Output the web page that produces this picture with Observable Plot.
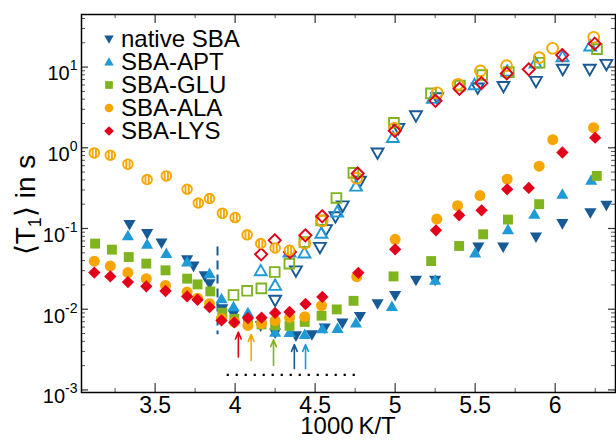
<!DOCTYPE html>
<html><head><meta charset="utf-8">
<script src="https://cdn.jsdelivr.net/npm/d3@7"></script>
<script src="https://cdn.jsdelivr.net/npm/@observablehq/plot@0.6"></script>
<style>
body{margin:0;background:#fff;font-family:"Liberation Sans",Arial,sans-serif}
#wrap{position:relative;width:616px;height:440px}
#wrap svg.plot{display:block}
#legend{position:absolute;left:101px;top:27px;font-size:24px;line-height:23px;color:#000;z-index:2}
#legend .row{display:flex;align-items:center;height:23px;white-space:nowrap}
#legend .row svg{width:16px;height:16px;margin-right:4px}
</style></head><body>
<div id="wrap"><div id="legend"></div></div>
<script>
// ---------- data (x = 1000 K/T, y = <T1> in s) ----------
const nativeFilled = [[3.34,0.112],[3.45,0.0865],[3.54,0.0661],[3.70,0.0409],[3.74,0.0342],[3.81,0.0259],[3.84,0.0207],[3.92,0.0101],[3.99,0.00862],[4.16,0.00621],[4.25,0.00508],[4.38,0.00467],[4.48,0.00483],[4.56,0.00586],[4.67,0.00673],[4.78,0.00814],[4.89,0.0117],[5.00,0.0148],[5.13,0.0228],[5.25,0.0228],[5.52,0.0589],[5.675,0.0589],[5.88,0.0784],[6.045,0.115],[6.22,0.157],[6.32,0.194]];
const aptFilled = [[3.33,0.0812],[3.45,0.0637],[3.57,0.0489],[3.70,0.0384],[3.84,0.0276],[3.915,0.0135],[3.99,0.0107],[4.08,0.00905],[4.25,0.0052],[4.34,0.00515],[4.435,0.00487],[4.545,0.00573],[4.64,0.00578],[4.755,0.00673],[4.98,0.0108],[5.25,0.0228],[5.50,0.0497],[5.705,0.0969],[5.87,0.150],[6.045,0.266],[6.225,0.396]];
const gluFilled = [[3.125,0.065],[3.23,0.0547],[3.335,0.0443],[3.445,0.0367],[3.565,0.0303],[3.70,0.0239],[3.765,0.0203],[3.845,0.0166],[3.92,0.00905],[3.995,0.00759],[4.08,0.00686],[4.165,0.00648],[4.25,0.0063],[4.34,0.00621],[4.435,0.00696],[4.54,0.00831],[4.635,0.00994],[4.74,0.0127],[4.99,0.0255],[5.225,0.0395],[5.40,0.0607],[5.55,0.0847],[5.705,0.129],[5.90,0.200],[6.26,0.448]];
const alaFilled = [[3.12,0.0394],[3.22,0.0343],[3.33,0.0284],[3.445,0.0239],[3.565,0.0197],[3.70,0.0163],[3.765,0.0137],[3.84,0.0117],[3.915,0.00762],[3.995,0.00692],[4.08,0.0063],[4.165,0.00661],[4.25,0.0072],[4.34,0.00791],[4.435,0.00807],[4.54,0.0111],[4.76,0.0253],[5.0,0.0735],[5.26,0.131],[5.39,0.192],[5.53,0.256],[5.70,0.408],[5.90,0.591],[5.985,1.26],[6.24,1.775]];
const lysFilled = [[3.12,0.0284],[3.22,0.0255],[3.33,0.0217],[3.445,0.0192],[3.565,0.0168],[3.70,0.0144],[3.765,0.0131],[3.84,0.0106],[3.915,0.00726],[3.995,0.00686],[4.08,0.00776],[4.165,0.00785],[4.25,0.00899],[4.34,0.00926],[4.44,0.0116],[4.545,0.0142],[4.77,0.0282],[5.0,0.0552],[5.255,0.095],[5.40,0.146],[5.54,0.168],[5.70,0.306],[5.835,0.318],[6.045,0.874],[6.25,1.335]];
const alaHatched = [[3.12,0.864],[3.22,0.809],[3.33,0.626],[3.45,0.404],[3.57,0.448],[3.70,0.306],[3.77,0.207],[3.84,0.235],[3.92,0.154],[4.00,0.1365],[4.075,0.0835],[4.16,0.0651],[4.25,0.0574],[4.34,0.0537]];
const nativeOpen = [[4.25,0.0129],[4.38,0.0299],[4.53,0.0584],[4.5675,0.0969],[4.627,0.140],[4.6725,0.191],[4.78,0.385],[4.89,0.864],[5.02,1.74],[5.13,2.50],[5.2625,4.18],[5.516,5.52],[5.677,5.76],[5.88,6.65],[6.0475,9.39],[6.216,9.39],[6.32,10.8]];
const aptOpen = [[4.16,0.0299],[4.25,0.0197],[4.34,0.0511],[4.433,0.0497],[4.539,0.0872],[4.6375,0.160],[4.756,0.334],[4.986,1.34],[5.236,4.09],[5.496,6.03],[5.70,8.87],[5.877,11.2],[6.046,13.4],[6.219,18.2]];
const gluOpen = [[3.99,0.015],[4.075,0.0169],[4.164,0.0181],[4.2475,0.0289],[4.339,0.0367],[4.433,0.068],[4.5375,0.126],[4.633,0.239],[4.739,0.488],[4.9925,2.04],[5.224,4.72],[5.405,5.89],[5.544,7.96],[5.71,8.67],[5.9025,11.3],[6.261,16.7]];
const alaOpen = [[4.435,0.0655],[4.544,0.124],[4.76,0.42],[4.997,1.74],[5.2625,4.80],[5.3925,6.12],[5.533,8.97],[5.696,10.4],[5.90,13.1],[5.984,17.1],[6.241,23.4]];
const lysOpen = [[4.1625,0.0479],[4.2475,0.0714],[4.3425,0.0511],[4.439,0.0823],[4.544,0.1417],[4.766,0.48],[4.9975,1.62],[5.252,3.82],[5.402,5.38],[5.539,6.33],[5.6975,8.35],[5.835,9.39],[6.044,14.1],[6.2475,19.5]];

// annotations
const arrowX = [4.02, 4.10, 4.24, 4.37, 4.44];
const arrowTip = [0.0052, 0.00487, 0.00418, 0.00366, 0.00366];
const arrowBase = [0.00255, 0.00232, 0.00201, 0.00183, 0.00183];
const arrowSeries = [4, 3, 2, 0, 1];
const dashX = [3.89];
const dashY = [0.059, 0.00483];
const dotY = [0.00154];
const dotX = [3.95, 4.77];

// labels
const seriesLabels = ["native SBA", "SBA-APT", "SBA-GLU", "SBA-ALA", "SBA-LYS"];
const seriesColors = ["#175a96", "#1e9ad6", "#80b41e", "#f6a600", "#e2001a"];
const xTicks = [3.5, 4, 4.5, 5, 5.5, 6];
const xMinorTicks = [3.25, 3.75, 4.25, 4.75, 5.25, 5.75, 6.25];
const yTicks = [1e-3, 1e-2, 1e-1, 1, 10];
const yTickExp = ["-3", "-2", "-1", "0", "1"];
const xLabel = "1000\u2009K/T";

// ---------- symbols ----------
const unit = s => Math.sqrt(s / Math.PI);
const sym = {
  circle: {draw(c, s) { const r = unit(s); c.moveTo(r, 0); c.arc(0, 0, r, 0, 2 * Math.PI); c.closePath(); }},
  triUp: {draw(c, s) { const r = unit(s) * 1.1; c.moveTo(0, -r); c.lineTo(r, r * 0.75); c.lineTo(-r, r * 0.75); c.closePath(); }},
  triDown: {draw(c, s) { const r = unit(s) * 1.1; c.moveTo(0, r); c.lineTo(r, -r * 0.75); c.lineTo(-r, -r * 0.75); c.closePath(); }},
  square: {draw(c, s) { const h = unit(s) * 0.9; c.moveTo(-h, -h); c.lineTo(h, -h); c.lineTo(h, h); c.lineTo(-h, h); c.closePath(); }},
  diamond: {draw(c, s) { const h = unit(s) * 1.12; c.moveTo(0, -h); c.lineTo(h, 0); c.lineTo(0, h); c.lineTo(-h, 0); c.closePath(); }},
  hatched: {draw(c, s) { const r = unit(s); c.moveTo(r, 0); c.arc(0, 0, r, 0, 2 * Math.PI); c.closePath();
    const a = r * 0.34, b = Math.sqrt(r * r - a * a); c.moveTo(-a, -b); c.lineTo(-a, b); c.moveTo(a, -b); c.lineTo(a, b); }}
};
const seriesSymbols = [sym.triDown, sym.triUp, sym.square, sym.circle, sym.diamond];

const W = 616, H = 440, mL = 81, mR = 1, mT = 14, mB = 48;
const iW = W - mL - mR, iH = H - mT - mB;

const filledMark = (data, i) => Plot.dot(data, {x: d => d[0], y: d => d[1], symbol: seriesSymbols[i], r: 5.5, fill: seriesColors[i], stroke: "none"});
const openMark = (data, i) => Plot.dot(data, {x: d => d[0], y: d => d[1], symbol: seriesSymbols[i], r: 5.4, fill: "none", stroke: seriesColors[i], strokeWidth: 1.9});

const yMinor = d3.scaleLog().domain([1e-3, 40]).ticks().filter(v => !yTicks.includes(v));

const svg = Plot.plot({
  width: W, height: H, marginLeft: mL, marginRight: mR, marginTop: mT, marginBottom: mB,
  style: {fontFamily: "Liberation Sans, Arial, sans-serif", background: "white", color: "black"},
  x: {domain: [3.04, 6.377], axis: null},
  y: {type: "log", domain: [0.000929, 44.8], axis: null},
  color: {type: "identity"},
  marks: [
    // inward ticks
    Plot.tickY(yTicks, {stroke: "#333", strokeWidth: 1.2, insetRight: iW - 7}),
    Plot.tickY(yTicks, {stroke: "#333", strokeWidth: 1.2, insetLeft: iW - 7}),
    Plot.tickY(yMinor, {stroke: "#555", strokeWidth: 1, insetRight: iW - 4}),
    Plot.tickY(yMinor, {stroke: "#555", strokeWidth: 1, insetLeft: iW - 4}),
    Plot.tickX(xTicks, {stroke: "#333", strokeWidth: 1.2, insetTop: iH - 9}),
    Plot.tickX(xTicks, {stroke: "#333", strokeWidth: 1.2, insetBottom: iH - 9}),
    Plot.tickX(xMinorTicks, {stroke: "#555", strokeWidth: 1, insetTop: iH - 4}),
    Plot.tickX(xMinorTicks, {stroke: "#555", strokeWidth: 1, insetBottom: iH - 4}),
    Plot.axisX(xTicks, {tickSize: 0, tickPadding: 4, fontSize: 23, tickFormat: d => String(d), label: null}),
    Plot.axisY(yTicks, {tickSize: 0, tickPadding: 4, fontSize: 20, dy: 7, tickFormat: () => "10", label: null}),
    // annotations
    Plot.ruleX(dashX, {y1: dashY[0], y2: dashY[1], stroke: seriesColors[0], strokeWidth: 2, strokeDasharray: "9,5"}),
    Plot.ruleY(dotY, {x1: dotX[0], x2: dotX[1], stroke: "black", strokeWidth: 2.2, strokeDasharray: "2.2,6.8"}),
    Plot.arrow(arrowX, {x1: d => d, x2: d => d, y1: (d, i) => arrowBase[i], y2: (d, i) => arrowTip[i],
      stroke: (d, i) => seriesColors[arrowSeries[i]], strokeWidth: 1.6, headLength: 7, headAngle: 45}),
    // open markers
    openMark(nativeOpen, 0), openMark(aptOpen, 1), openMark(gluOpen, 2), openMark(alaOpen, 3), openMark(lysOpen, 4),
    Plot.dot(alaHatched, {x: d => d[0], y: d => d[1], symbol: sym.hatched, r: 4.8, fill: "white", stroke: seriesColors[3], strokeWidth: 1.9}),
    // filled markers
    filledMark(nativeFilled, 0), filledMark(aptFilled, 1), filledMark(gluFilled, 2), filledMark(alaFilled, 3), filledMark(lysFilled, 4),
    Plot.frame({stroke: "black", strokeWidth: 1.5})
  ]
});
svg.classList.add("plot");
document.getElementById("wrap").appendChild(svg);

const s = d3.select(svg);
// superscript exponents on y tick labels
s.selectAll('g[aria-label="y-axis tick label"] text').each(function(_, i) {
  d3.select(this).append("tspan").attr("dy", -10).attr("font-size", 14).text(yTickExp[i]);
});
// x label
s.append("text").attr("x", (mL + W - mR) / 2).attr("y", 434).attr("text-anchor", "middle")
  .attr("font-size", 24).attr("fill", "black").text(xLabel);
// y label
const yl = s.append("text").attr("transform", "translate(35,205) rotate(-90)").attr("text-anchor", "middle")
  .attr("font-size", 28).attr("fill", "black");
yl.append("tspan").text("\u27E8T");
yl.append("tspan").attr("font-size", 18).attr("dy", 6).text("1");
yl.append("tspan").attr("dy", -6).text("\u27E9 in s");

// legend
const leg = d3.select("#legend");
seriesLabels.forEach((lab, i) => {
  const row = leg.append("div").attr("class", "row");
  const p = d3.path(); seriesSymbols[i].draw(p, Math.PI * 4.3 * 4.3);
  row.append("svg").attr("viewBox", "-8 -8 16 16").append("path").attr("d", p.toString()).attr("fill", seriesColors[i]);
  row.append("span").text(lab);
});
</script>
</body></html>
